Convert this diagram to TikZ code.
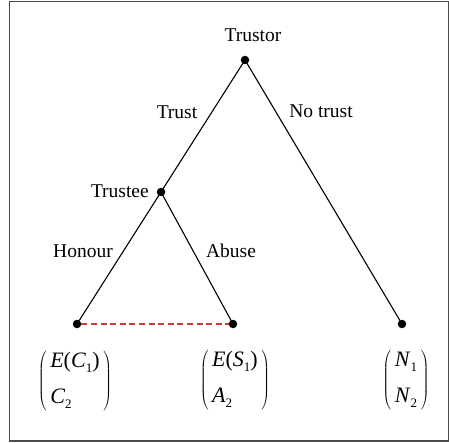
\documentclass[tikz,border=0pt]{standalone}
\usepackage{fontspec}
\setmainfont{Liberation Serif}
\tikzset{
  dot/.style={circle,fill=black,inner sep=0pt,minimum size=8.5pt},
  lbl/.style={font=\fontsize{19.5}{22}\selectfont,inner sep=0pt},
  edge/.style={line width=1.1pt,black},
  info/.style={dash pattern=on 6pt off 3.6pt,line width=1.2pt,draw={rgb,255:red,205;green,60;blue,60}},
  pay/.style={font=\fontsize{22}{24}\selectfont,inner sep=0pt}
}
\newcommand{\sbs}[1]{\raisebox{-0.45ex}{\fontsize{13}{13}\selectfont #1}}
\newcommand{\payvec}[2]{$\left(\vcenter{\hbox{\begin{tabular}{@{\,}l@{\,}}#1\\[12pt]#2\end{tabular}}}\right)$}
\begin{document}
\begin{tikzpicture}[x=1pt,y=-1pt]
\useasboundingbox (0,0) rectangle (449,443);
\draw[gray!60!black,line width=1.3pt] (9.5,1.5) rectangle (448.5,441);
\node[dot] (trustor) at (245,60) {};
\node[dot] (trustee) at (161,192) {};
\node[dot] (l1) at (77,324) {};
\node[dot] (l2) at (233,324) {};
\node[dot] (l3) at (402,324) {};
\draw[edge] (trustor.center) -- (trustee.center);
\draw[edge] (trustor.center) -- (l3.center);
\draw[edge] (trustee.center) -- (l1.center);
\draw[edge] (trustee.center) -- (l2.center);
\draw[info] (l1) -- (l2);
\node[lbl] (tor) at (253,35) {Trustor};
\node[lbl,anchor=east] (tee) at (149,191) {Trustee};
\node[lbl] (trust) at (177,112) {Trust};
\node[lbl] (notrust) at (321,111) {No trust};
\node[lbl] (hon) at (83,251) {Honour};
\node[lbl] (abu) at (231,251) {Abuse};
\node[pay] (p1) at (75,381) {\payvec{\textit{E}(\textit{C}\sbs{1})}{\textit{C}\sbs{2}}};
\node[pay] (p2) at (235,380) {\payvec{\textit{E}(\textit{S}\sbs{1})}{\textit{A}\sbs{2}}};
\node[pay] (p3) at (406,380) {\payvec{\textit{N}\sbs{1}}{\textit{N}\sbs{2}}};
\end{tikzpicture}
\end{document}
